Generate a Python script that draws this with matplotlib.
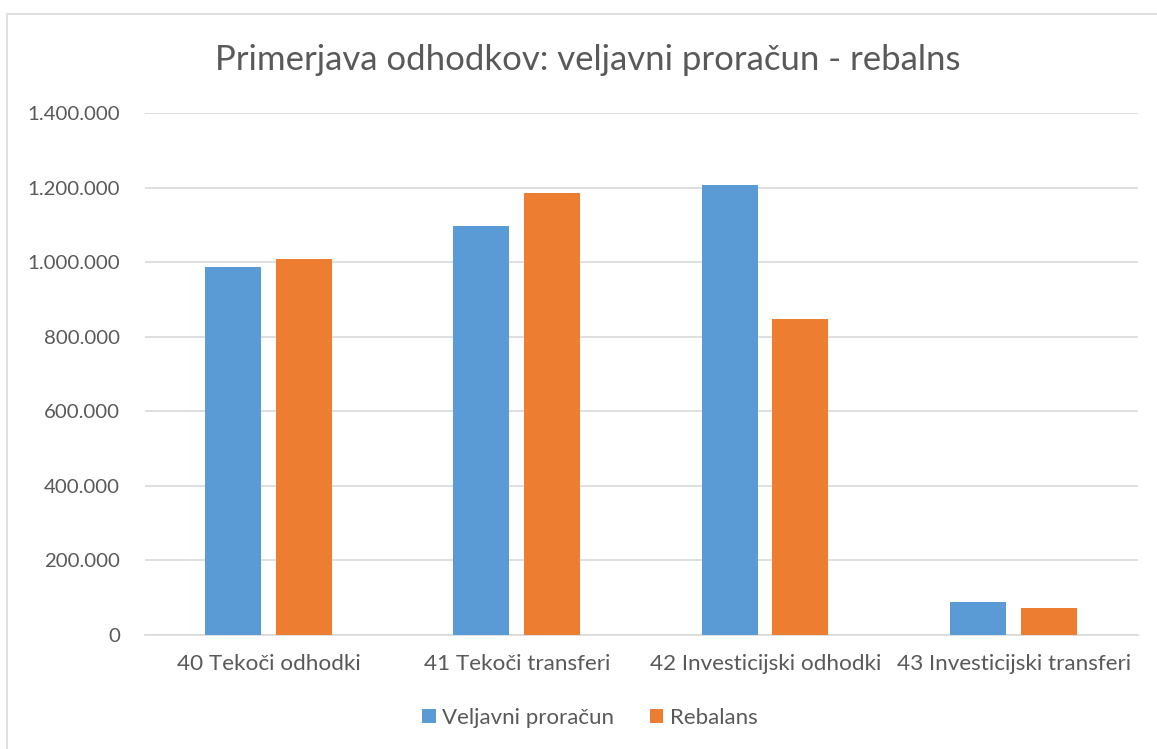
import matplotlib
matplotlib.use("Agg")
import matplotlib.pyplot as plt
from matplotlib.patches import Rectangle
import numpy as np

categories = ["40 Tekoči odhodki", "41 Tekoči transferi", "42 Investicijski odhodki", "43 Investicijski transferi"]
veljavni = [987000, 1097000, 1207000, 88500]
rebalans = [1008000, 1185000, 847500, 72400]
series_names = ["Veljavni proračun", "Rebalans"]
yticks = [0, 200000, 400000, 600000, 800000, 1000000, 1200000, 1400000]
ytick_labels = ["0", "200.000", "400.000", "600.000", "800.000", "1.000.000", "1.200.000", "1.400.000"]

plt.rcParams['font.family'] = ['Lato', 'DejaVu Sans']
txt = '#595959'
grid = '#d9d9d9'

fig = plt.figure(figsize=(11.57, 7.49), dpi=100)
ax = fig.add_axes([145/1157, 1-635/749, (1138-145)/1157, (635-113)/749])

x = np.arange(len(categories))
w = 0.226
ax.bar(x - 0.145, veljavni, w, color='#5b9bd5', label=series_names[0], zorder=3)
ax.bar(x + 0.14, rebalans, w, color='#ed7d31', label=series_names[1], zorder=3)

ax.set_xlim(-0.5, len(categories) - 0.5)
ax.set_ylim(0, 1400000)
ax.set_yticks(yticks)
ax.set_yticklabels(ytick_labels)
ax.set_xticks(x)
ax.set_xticklabels(categories)
ax.tick_params(axis='both', length=0, colors=txt)
ax.tick_params(axis='y', pad=18, labelsize=14.7)
ax.tick_params(axis='x', pad=14, labelsize=16.2)
ax.yaxis.grid(True, color=grid, linewidth=1.2, zorder=0)
for s in ['top', 'right', 'left']:
    ax.spines[s].set_visible(False)
ax.spines['bottom'].set_color(grid)
ax.spines['bottom'].set_linewidth(1.2)

fig.text(588/1157, 1-60/749, "Primerjava odhodkov: veljavni proračun - rebalns",
         ha='center', va='center', fontsize=25, color=txt)

leg = fig.legend(loc='center', bbox_to_anchor=(590/1157, 1-718/749), ncol=2, frameon=False,
                 fontsize=16, labelcolor=txt, handlelength=0.6, handleheight=0.6,
                 handletextpad=0.3, columnspacing=1.6)

fig.patches.append(Rectangle((7/1157, -0.1), 1.2, 1-14/749 + 0.1, transform=fig.transFigure,
                             fill=False, edgecolor=grid, linewidth=1.2))

fig.savefig("out.png", dpi=100)
